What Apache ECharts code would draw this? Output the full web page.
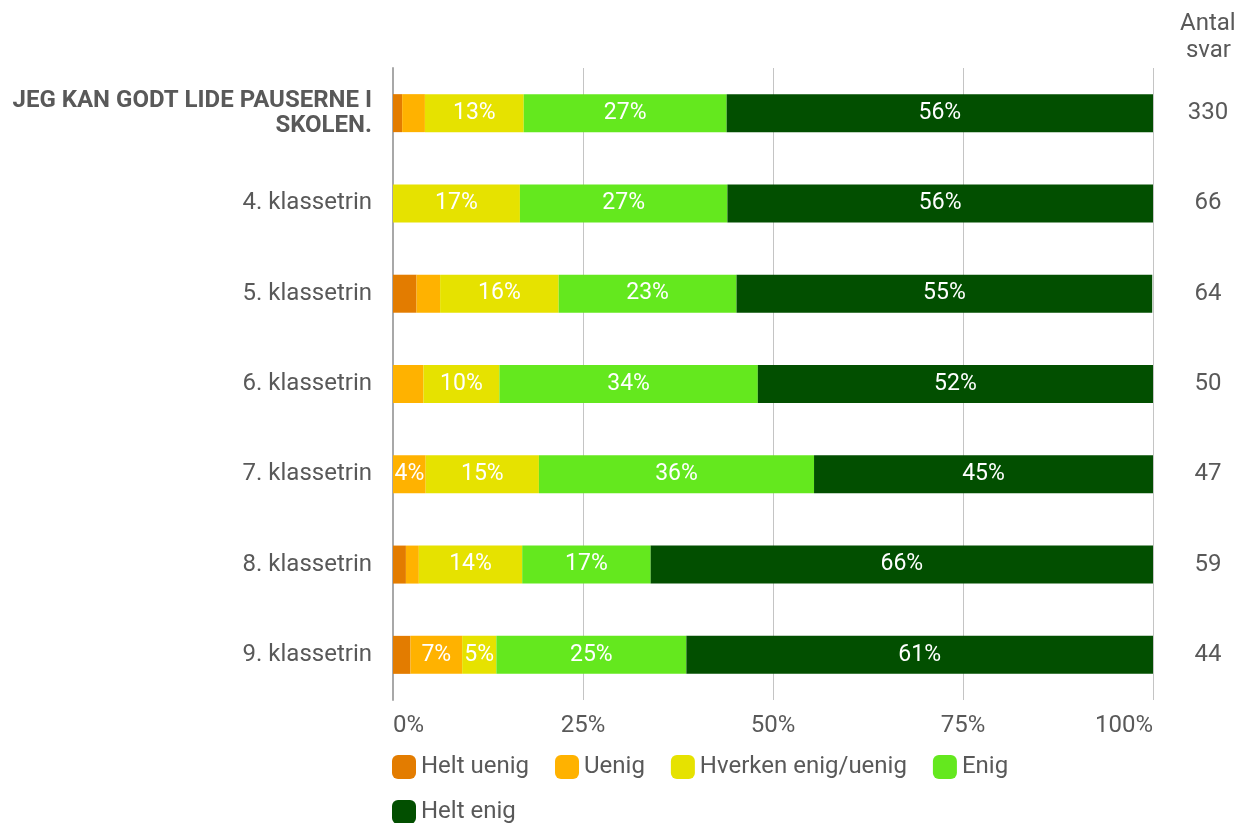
<!DOCTYPE html>
<html>
<head>
<meta charset="utf-8">
<script src="https://cdn.jsdelivr.net/npm/echarts@6/dist/echarts.min.js"></script>
<style>
html,body{margin:0;padding:0;background:#fff;}
#main{width:1239px;height:823px;}
</style>
</head>
<body>
<div id="main"></div>
<script>
const categories = ['JEG KAN GODT LIDE PAUSERNE I SKOLEN.', '4. klassetrin', '5. klassetrin', '6. klassetrin', '7. klassetrin', '8. klassetrin', '9. klassetrin'];
const counts = ['330', '66', '64', '50', '47', '59', '44'];
const seriesNames = ['Helt uenig', 'Uenig', 'Hverken enig/uenig', 'Enig', 'Helt enig'];
const heltUenig = [1.2, 0, 3.1, 0, 0, 1.7, 2.3];
const uenig = [3.0, 0, 3.1, 4.0, 4.3, 1.7, 6.8];
const hverken = [13.0, 16.7, 15.6, 10.0, 14.9, 13.6, 4.5];
const enig = [26.7, 27.3, 23.4, 34.0, 36.2, 16.9, 25.0];
const heltEnig = [56.1, 56.1, 54.7, 52.0, 44.7, 66.1, 61.4];
const xTicks = [0, 25, 50, 75, 100];
const colors = ['#E37C00', '#FFB200', '#E6E200', '#64E81E', '#024F00'];

const chart = echarts.init(document.getElementById('main'));
const textColor = '#595959';
const font = 'Roboto, sans-serif';
const fs = 24;
const values = [heltUenig, uenig, hverken, enig, heltEnig];

const series = seriesNames.map((name, i) => ({
  name: name,
  type: 'bar',
  stack: 'total',
  barWidth: 38,
  itemStyle: { color: colors[i] },
  label: {
    show: true,
    position: 'inside',
    color: '#fff',
    fontFamily: font,
    fontSize: 23,
    formatter: p => p.value >= 4.2 ? Math.round(p.value) + '%' : ''
  },
  data: values[i]
}));

const legendBase = {
  padding: 0,
  itemWidth: 24, itemHeight: 24, itemGap: 26,
  icon: 'roundRect',
  textStyle: { color: textColor, fontSize: fs, fontFamily: font }
};

chart.setOption({
  animation: false,
  color: colors,
  textStyle: { fontFamily: font },
  grid: { left: 393, right: 86, top: 68, bottom: 123 },
  xAxis: {
    type: 'value',
    min: 0, max: 100, interval: 25,
    axisLine: { show: false },
    axisTick: { show: false },
    splitLine: { show: true, lineStyle: { color: '#c4c4c4', width: 1 } },
    axisLabel: {
      color: textColor, fontSize: fs, fontFamily: font, margin: 14,
      alignMinLabel: 'left', alignMaxLabel: 'right',
      formatter: v => xTicks.includes(v) ? v + '%' : ''
    }
  },
  yAxis: [{
    type: 'category',
    inverse: true,
    data: categories,
    axisLine: { show: true, lineStyle: { color: '#a8a8a8', width: 2 } },
    axisTick: { show: false },
    axisLabel: {
      color: textColor, fontSize: fs, fontFamily: font, margin: 21,
      formatter: (v, i) => i === 0 ? '{b|JEG KAN GODT LIDE PAUSERNE I\nSKOLEN.}' : v,
      rich: { b: { fontWeight: 'bold', fontSize: fs, color: textColor, fontFamily: font, lineHeight: 25 } }
    }
  }, {
    type: 'category',
    inverse: true,
    position: 'right',
    data: counts,
    axisLine: { show: false },
    axisTick: { show: false },
    axisLabel: { color: textColor, fontSize: fs, fontFamily: font, margin: 55, align: 'center' }
  }],
  legend: [
    Object.assign({ left: 392, top: 755, data: seriesNames.slice(0, 4) }, legendBase),
    Object.assign({ left: 392, top: 800, data: seriesNames.slice(4) }, legendBase)
  ],
  graphic: [{
    type: 'text', left: 1180, top: 10,
    style: { text: 'Antal\n svar', fill: textColor, fontSize: fs, fontFamily: font, lineHeight: 27, align: 'center' }
  }],
  series: series
});
</script>
</body>
</html>
